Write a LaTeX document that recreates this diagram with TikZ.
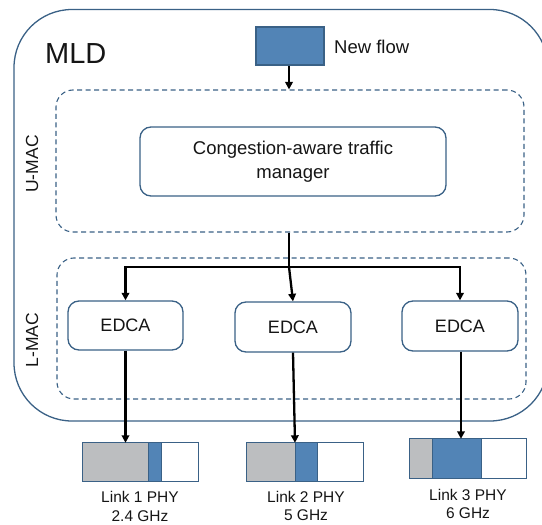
\documentclass[tikz,border=0pt]{standalone}
\usepackage{fontspec}
\setmainfont{Liberation Sans}
\usetikzlibrary{arrows.meta}
\definecolor{edge}{HTML}{3A6186}
\definecolor{flowblue}{HTML}{5284B6}
\definecolor{qgray}{HTML}{BCBEC0}
\definecolor{ink}{HTML}{151515}
\tikzset{
  mld/.style={draw=edge, line width=1.3pt, rounded corners=58pt},
  layer/.style={draw=edge, line width=1.1pt, dashed, dash pattern=on 5pt off 3.5pt, rounded corners=17pt},
  boxr/.style={draw=edge, line width=1.3pt, rounded corners=11pt, fill=white, text=ink, align=center, inner sep=0pt},
  flowbox/.style={draw=edge, line width=1.1pt, fill=flowblue, minimum width=68pt, minimum height=38pt, inner sep=0pt},
  linkbox/.style={minimum width=#1, inner sep=0pt},
  linkedge/.style={draw=edge, line width=1.3pt},
  lbl/.style={text=ink, inner sep=0pt},
  wire/.style={line width=2.3pt, black},
  arr/.style={wire, -{Triangle[length=7.5pt,width=7.5pt]}},
}
\begin{document}
\begin{tikzpicture}[x=1pt,y=-1pt]
\useasboundingbox (0,0) rectangle (542,525);
\clip (0,0) rectangle (542,525);
% outer MLD
\draw[mld] (14,9.5) rectangle (548,421);
\node[lbl, anchor=base west, font=\fontsize{29}{34}\selectfont] (mldlbl) at (45,63) {MLD};
% new flow
\node[flowbox] (nf) at (290,46) {};
\node[lbl, anchor=base west, font=\fontsize{18.5}{22}\selectfont] (nflbl) at (334,53) {New flow};
% U-MAC
\node[layer, minimum width=468pt, minimum height=142pt, inner sep=0pt] (umac) at (290,161) {};
\node[lbl, rotate=90, font=\fontsize{17.5}{21}\selectfont] (umaclbl) at (32,164) {U-MAC};
\node[boxr, minimum width=306pt, minimum height=69pt, font=\fontsize{18.5}{24}\selectfont] (cam) at (293,161.5) {Congestion-aware traffic\\manager};
% L-MAC
\node[layer, minimum width=469pt, minimum height=141pt, inner sep=0pt] (lmac) at (291.5,328.5) {};
\node[lbl, rotate=90, font=\fontsize{17.5}{21}\selectfont] (lmaclbl) at (32,340) {L-MAC};
\node[boxr, minimum width=115pt, minimum height=49pt, font=\fontsize{18}{22}\selectfont] (edca1) at (125.5,325.5) {EDCA};
\node[boxr, minimum width=116pt, minimum height=50pt, font=\fontsize{18}{22}\selectfont] (edca2) at (293,327) {EDCA};
\node[boxr, minimum width=116pt, minimum height=50pt, font=\fontsize{18}{22}\selectfont] (edca3) at (460,326) {EDCA};
% links
\node[linkbox=115pt, minimum height=38pt] (link1) at (140.5,462) {};
\node[linkbox=116pt, minimum height=38pt] (link2) at (305,462) {};
\node[linkbox=116pt, minimum height=39pt] (link3) at (468,458.5) {};
\fill[qgray] (link1.north west) rectangle ([xshift=66pt]link1.south west);
\fill[flowblue] ([xshift=66pt]link1.north west) rectangle ([xshift=79pt]link1.south west);
\draw[linkedge] ([xshift=66pt]link1.north west) -- ([xshift=66pt]link1.south west);
\draw[linkedge] ([xshift=79pt]link1.north west) -- ([xshift=79pt]link1.south west);
\draw[linkedge] (link1.north west) rectangle (link1.south east);
\fill[qgray] (link2.north west) rectangle ([xshift=49pt]link2.south west);
\fill[flowblue] ([xshift=49pt]link2.north west) rectangle ([xshift=71pt]link2.south west);
\draw[linkedge] ([xshift=49pt]link2.north west) -- ([xshift=49pt]link2.south west);
\draw[linkedge] ([xshift=71pt]link2.north west) -- ([xshift=71pt]link2.south west);
\draw[linkedge] (link2.north west) rectangle (link2.south east);
\fill[qgray] (link3.north west) rectangle ([xshift=23pt]link3.south west);
\fill[flowblue] ([xshift=23pt]link3.north west) rectangle ([xshift=72pt]link3.south west);
\draw[linkedge] ([xshift=23pt]link3.north west) -- ([xshift=23pt]link3.south west);
\draw[linkedge] ([xshift=72pt]link3.north west) -- ([xshift=72pt]link3.south west);
\draw[linkedge] (link3.north west) rectangle (link3.south east);
\node[lbl, anchor=north, align=center, font=\fontsize{15.5}{19.5}\selectfont] (l1lbl) at (140,491) {Link 1 PHY\\2.4 GHz};
\node[lbl, anchor=north, align=center, font=\fontsize{15.5}{18.5}\selectfont] (l2lbl) at (306,491) {Link 2 PHY\\5 GHz};
\node[lbl, anchor=north, align=center, font=\fontsize{15.5}{18.5}\selectfont] (l3lbl) at (468,489) {Link 3 PHY\\6 GHz};
% connectors
\coordinate (split) at (289,267);
\draw[arr] (nf.south -| split) -- (split |- umac.north);
\draw[wire] (split |- umac.south) -- (split);
\draw[arr] (split) -| (edca1.north);
\draw[arr] (split) -| (edca3.north);
\draw[arr] (split) -- (edca2.north);
\draw[arr] (edca1.south) -- (edca1.south |- link1.north);
\draw[arr] (edca2.south) -- ([xshift=2pt]edca2.south |- link2.north);
\draw[arr] ([xshift=1pt]edca3.south) -- ([xshift=1pt]edca3.south |- link3.north);
\end{tikzpicture}
\end{document}
